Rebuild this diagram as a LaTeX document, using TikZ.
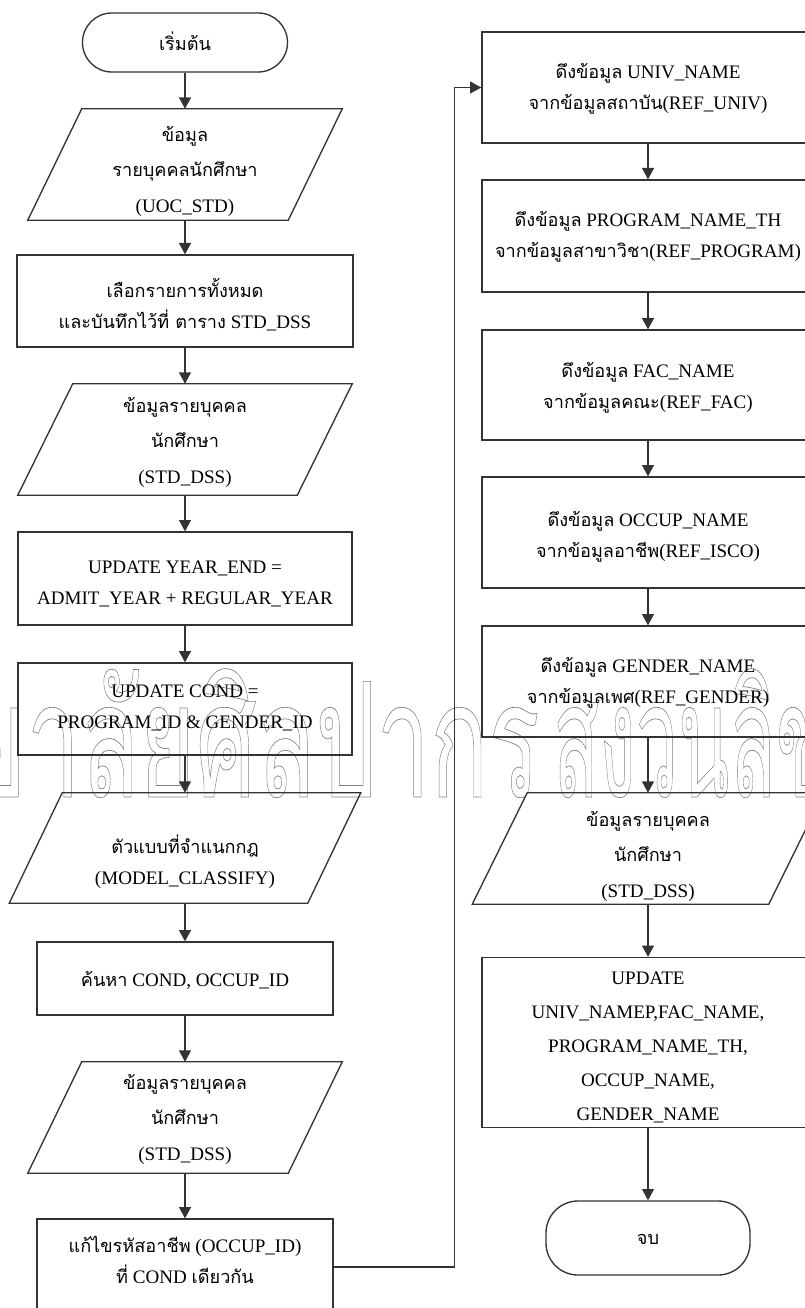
\documentclass[tikz,border=0pt]{standalone}
\usepackage{fontspec}
\setmainfont{Liberation Serif}
\newfontfamily\thaifont[Script=Thai,Scale=0.95]{Loma}
\newfontfamily\wmfont[Script=Thai]{Loma}
\usetikzlibrary{arrows.meta,calc}

% one drawing unit = one pixel of the 805 x 1308 sheet
\newlength\unitpx
\setlength\unitpx{0.75pt}
\newcommand\tha[1]{{\thaifont #1}}
\newcommand\fsn{\fontsize{14.3pt}{23.25pt}\selectfont}
\newcommand\fsw{\fontsize{14.3pt}{26.6pt}\selectfont}
% centred lines of text, lowered by #1 pixels inside their box
\newcommand\ntext[2][0]{\raisebox{-#1\unitpx}[\height][\depth]{\begin{tabular}{@{}c@{}}#2\end{tabular}}}
% outlined lettering for the background stamp
\newcommand\outl[1]{\special{pdf:literal direct 1 Tr 0.55 w}#1\special{pdf:literal direct 0 Tr}}
% slanted data box drawn around a (borderless) node
\newcommand\slantbox[2]{\draw[line] ($(#1.north west)+(#2,0)$) -- ($(#1.north east)+(#2,0)$)
  -- ($(#1.south east)-(#2,0)$) -- ($(#1.south west)-(#2,0)$) -- cycle;}

\tikzset{
  line/.style={draw=black!80, line width=1pt},
  flow/.style={line, -{Triangle[length=8.5pt,width=9pt]}},
  procbox/.style={line, rectangle, inner sep=0pt, font=\fsn},
  databox/.style={rectangle, inner sep=0pt, font=\fsw},
  termbox/.style={line, rectangle, inner sep=0pt, font=\fsn},
  stamp/.style={text=black!50, inner sep=0pt},
}

\begin{document}
\begin{tikzpicture}[x=0.75pt, y=-0.75pt]
\useasboundingbox (0,0) rectangle (805,1308);

% background stamp
\node[stamp, anchor=base east] (wmA) at (540,797)
  {\scalebox{0.6}[1]{\wmfont\fontsize{120pt}{120pt}\selectfont\outl{มหาวิทยาลัยศิลปากร}}};
\node[stamp, anchor=base west] (wmB) at (553,797)
  {\scalebox{0.47}[1]{\wmfont\fontsize{120pt}{120pt}\selectfont\outl{สงวนลิขสิทธิ์}}};

% ---- left column ----
\node[termbox, rounded corners=22pt, minimum width=205*\unitpx, minimum height=59*\unitpx] (start) at (185,42.5)
  {\ntext[2]{\tha{เริ่มต้น}}};

\node[databox, minimum width=260*\unitpx, minimum height=111*\unitpx] (p1) at (185,164.5)
  {\ntext[5]{\tha{ข้อมูล}\\ \tha{รายบุคคลนักศึกษา}\\ (UOC\_STD)}};
\slantbox{p1}{27}

\node[procbox, minimum width=336*\unitpx, minimum height=92*\unitpx] (b1) at (185,301)
  {\ntext[6]{\tha{เลือกรายการทั้งหมด}\\ \tha{และบันทึกไว้ที่ ตาราง} STD\_DSS}};

\node[databox, minimum width=279*\unitpx, minimum height=111*\unitpx] (p2) at (185,439.5)
  {\ntext[1]{\tha{ข้อมูลรายบุคคล}\\ \tha{นักศึกษา}\\ (STD\_DSS)}};
\slantbox{p2}{27.5}

\node[procbox, minimum width=334*\unitpx, minimum height=93*\unitpx] (b2) at (185,578.5)
  {\ntext[4]{UPDATE YEAR\_END =\\ ADMIT\_YEAR + REGULAR\_YEAR}};

\node[procbox, minimum width=334*\unitpx, minimum height=92*\unitpx] (b3) at (185,709)
  {\ntext[-2]{UPDATE COND =\\ PROGRAM\_ID \& GENDER\_ID}};

\node[databox, font=\fsn, minimum width=298*\unitpx, minimum height=110*\unitpx] (p3) at (185,848)
  {\ntext[15]{\tha{ตัวแบบที่จำแนกกฎ}\\ (MODEL\_CLASSIFY)}};
\slantbox{p3}{26.5}

\node[procbox, minimum width=296*\unitpx, minimum height=73*\unitpx] (b4) at (185,978.5)
  {\ntext[2]{\tha{ค้นหา} COND, OCCUP\_ID}};

\node[databox, minimum width=260*\unitpx, minimum height=111*\unitpx] (p4) at (185,1117.5)
  {\ntext[0]{\tha{ข้อมูลรายบุคคล}\\ \tha{นักศึกษา}\\ (STD\_DSS)}};
\slantbox{p4}{27}

\node[procbox, minimum width=296*\unitpx, minimum height=96*\unitpx] (b5) at (185,1267)
  {\ntext[-5]{\tha{แก้ไขรหัสอาชีพ} (OCCUP\_ID)\\ \tha{ที่} COND \tha{เดียวกัน}}};

% ---- right column ----
\node[procbox, minimum width=332*\unitpx, minimum height=111*\unitpx] (r1) at (648,87.5)
  {\ntext[0]{\tha{ดึงข้อมูล} UNIV\_NAME\\ \tha{จากข้อมูลสถาบัน}(REF\_UNIV)}};
\node[procbox, minimum width=332*\unitpx, minimum height=112*\unitpx] (r2) at (648,236)
  {\ntext[0]{\tha{ดึงข้อมูล} PROGRAM\_NAME\_TH\\ \tha{จากข้อมูลสาขาวิชา}(REF\_PROGRAM)}};
\node[procbox, minimum width=332*\unitpx, minimum height=110*\unitpx] (r3) at (648,385)
  {\ntext[2]{\tha{ดึงข้อมูล} FAC\_NAME\\ \tha{จากข้อมูลคณะ}(REF\_FAC)}};
\node[procbox, minimum width=332*\unitpx, minimum height=111*\unitpx] (r4) at (648,532.5)
  {\ntext[3]{\tha{ดึงข้อมูล} OCCUP\_NAME\\ \tha{จากข้อมูลอาชีพ}(REF\_ISCO)}};
\node[procbox, minimum width=332*\unitpx, minimum height=111*\unitpx] (r5) at (648,681.5)
  {\ntext[0]{\tha{ดึงข้อมูล} GENDER\_NAME\\ \tha{จากข้อมูลเพศ}(REF\_GENDER)}};

\node[databox, minimum width=296*\unitpx, minimum height=111*\unitpx] (pr) at (648,848.5)
  {\ntext[6]{\tha{ข้อมูลรายบุคคล}\\ \tha{นักศึกษา}\\ (STD\_DSS)}};
\slantbox{pr}{27.5}

\node[procbox, font=\fontsize{14.3pt}{25.5pt}\selectfont, minimum width=332*\unitpx, minimum height=167*\unitpx] (r6) at (648,1042.5)
  {\ntext[3]{UPDATE\\ UNIV\_NAMEP,FAC\_NAME,\\ PROGRAM\_NAME\_TH,\\ OCCUP\_NAME,\\ GENDER\_NAME}};

\node[termbox, rounded corners=24pt, minimum width=204*\unitpx, minimum height=74*\unitpx] (stop) at (648,1238)
  {\ntext[0]{\tha{จบ}}};

% ---- connectors ----
\draw[flow] (start.south) -- (p1.north);
\draw[flow] (p1.south) -- (b1.north);
\draw[flow] (b1.south) -- (p2.north);
\draw[flow] (p2.south) -- (b2.north);
\draw[flow] (b2.south) -- (b3.north);
\draw[flow] (b3.south) -- (p3.north);
\draw[flow] (p3.south) -- (b4.north);
\draw[flow] (b4.south) -- (p4.north);
\draw[flow] (p4.south) -- (b5.north);
\draw[flow] (b5.east) -- ++(121,0) |- (r1.west);
\draw[flow] (r1.south) -- (r2.north);
\draw[flow] (r2.south) -- (r3.north);
\draw[flow] (r3.south) -- (r4.north);
\draw[flow] (r4.south) -- (r5.north);
\draw[flow] (r5.south) -- (pr.north);
\draw[flow] (pr.south) -- (r6.north);
\draw[flow] (r6.south) -- (stop.north);
\end{tikzpicture}
\end{document}
